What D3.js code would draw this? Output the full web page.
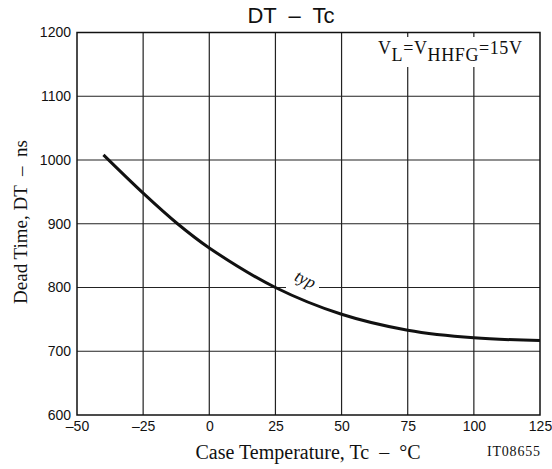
<!DOCTYPE html>
<html><head><meta charset="utf-8">
<script src="https://cdn.jsdelivr.net/npm/d3@7"></script>
<style>body{margin:0;background:#fff}svg{display:block}</style>
</head><body>
<svg id="c" width="552" height="469"></svg>
<script>
const temps = [-40, -25, -12, 0, 25, 50, 75, 100, 125];
const deadTime = [1008, 948, 900, 862, 800, 758, 733, 721, 717];
const xTicks = [-50, -25, 0, 25, 50, 75, 100, 125];
const yTicks = [600, 700, 800, 900, 1000, 1100, 1200];

const svg = d3.select("#c");
const L = 77, R = 540, T = 32.5, B = 415;
const x = d3.scaleLinear().domain([-50, 125]).range([L, R]);
const y = d3.scaleLinear().domain([600, 1200]).range([B, T]);

// grid
const g = svg.append("g");
g.selectAll(".vx").data(xTicks.slice(1, -1)).join("line")
  .attr("x1", d => x(d)).attr("x2", d => x(d)).attr("y1", T).attr("y2", B)
  .attr("stroke", "#222").attr("stroke-width", 1.2);
g.selectAll(".hy").data(yTicks.slice(1, -1)).join("line")
  .attr("x1", L).attr("x2", R).attr("y1", d => y(d)).attr("y2", d => y(d))
  .attr("stroke", "#222").attr("stroke-width", 1.2);

// axes (labels only)
const xAxis = d3.axisBottom(x).tickValues(xTicks).tickSize(0).tickPadding(6)
  .tickFormat(d => d < 0 ? "\u2013" + Math.abs(d) : String(d));
const xg = svg.append("g").attr("transform", `translate(0,${B})`).call(xAxis);
const yAxis = d3.axisLeft(y).tickValues(yTicks).tickSize(0).tickPadding(6).tickFormat(d3.format("d"));
const yg = svg.append("g").attr("transform", `translate(${L},0)`).call(yAxis);
[xg, yg].forEach(a => {
  a.select(".domain").remove();
  a.selectAll("text").attr("font-family", "Liberation Sans, Arial, sans-serif")
    .attr("font-size", 14).attr("fill", "#111");
});

// legend box (white background covering grid)
svg.append("rect").attr("x", 356).attr("y", 37).attr("width", 182).attr("height", 30).attr("fill", "#fff");
const lt = svg.append("text").attr("x", 378).attr("y", 54)
  .attr("font-family", "Liberation Serif, Times New Roman, serif").attr("font-size", 18)
  .attr("fill", "#111").attr("letter-spacing", 0.6);
lt.append("tspan").text("V");
lt.append("tspan").attr("dy", 6.5).text("L");
lt.append("tspan").attr("dy", -6.5).text("=V");
lt.append("tspan").attr("dy", 6.5).text("HHFG");
lt.append("tspan").attr("dy", -6.5).text("=15V");

// typ label background
const ty = y(800);
svg.append("rect").attr("x", 286).attr("y", ty - 6).attr("width", 33).attr("height", 12).attr("fill", "#fff");

// curve
const line = d3.line().x(d => x(d[0])).y(d => y(d[1])).curve(d3.curveCatmullRom.alpha(0.5));
svg.append("path").datum(temps.map((t, i) => [t, deadTime[i]]))
  .attr("d", line).attr("fill", "none").attr("stroke", "#111").attr("stroke-width", 3);

svg.append("text").attr("transform", `translate(303,${ty - 3}) rotate(25)`)
  .attr("text-anchor", "middle").attr("font-family", "Liberation Serif, Times New Roman, serif")
  .attr("font-style", "italic").attr("font-size", 17).attr("fill", "#111").text("typ");

// border
svg.append("rect").attr("x", L).attr("y", T).attr("width", R - L).attr("height", B - T)
  .attr("fill", "none").attr("stroke", "#111").attr("stroke-width", 1.5);

// titles
svg.append("text").attr("x", 291).attr("y", 23).attr("text-anchor", "middle")
  .attr("font-family", "Liberation Sans, Arial, sans-serif").attr("font-size", 22).attr("fill", "#111")
  .attr("xml:space", "preserve").text("DT  \u2013  Tc");
svg.append("text").attr("x", 308).attr("y", 459).attr("text-anchor", "middle")
  .attr("font-family", "Liberation Serif, Times New Roman, serif").attr("font-size", 20).attr("fill", "#111")
  .attr("xml:space", "preserve").text("Case Temperature, Tc  \u2013  \u00b0C");
svg.append("text").attr("transform", "translate(27,222) rotate(-90)").attr("text-anchor", "middle")
  .attr("font-family", "Liberation Serif, Times New Roman, serif").attr("font-size", 19).attr("fill", "#111")
  .attr("xml:space", "preserve").text("Dead Time, DT  \u2013  ns");
svg.append("text").attr("x", 487).attr("y", 456)
  .attr("font-family", "Liberation Serif, Times New Roman, serif").attr("font-size", 14).attr("fill", "#111")
  .attr("textLength", 53).attr("lengthAdjust", "spacing").text("IT08655");
</script>
</body></html>
